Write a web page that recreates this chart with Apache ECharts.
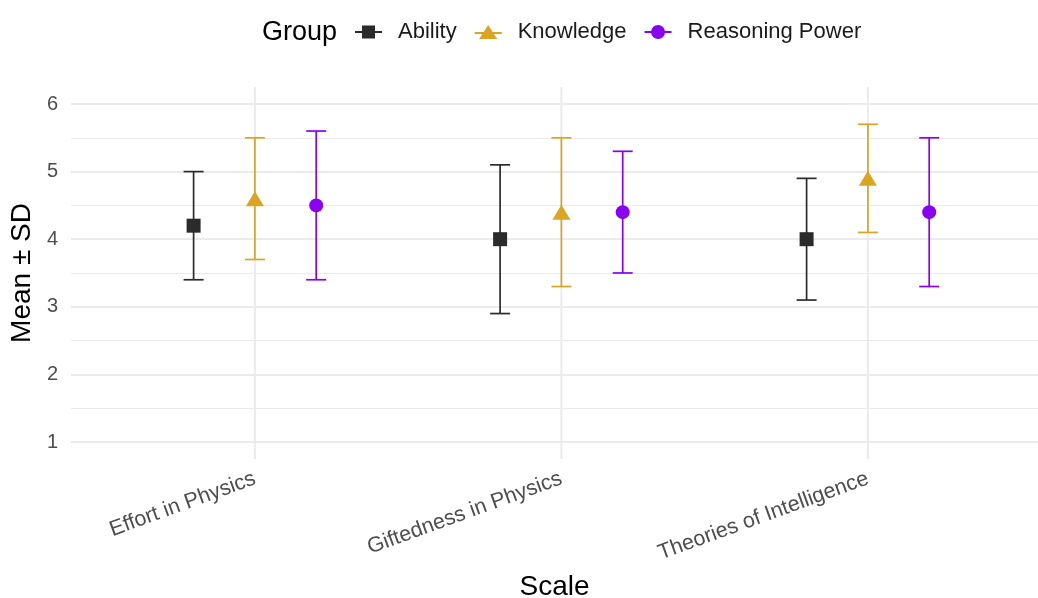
<!DOCTYPE html>
<html><head><meta charset="utf-8">
<script src="https://cdn.jsdelivr.net/npm/echarts@6/dist/echarts.min.js"></script>
<style>html,body{margin:0;padding:0;background:#fff}#c{width:1038px;height:598px}</style>
</head><body><div id="c"></div>
<script>
const categories = ['Effort in Physics', 'Giftedness in Physics', 'Theories of Intelligence'];
const groups = ['Ability', 'Knowledge', 'Reasoning Power'];
const abilityMean = [4.2, 4.0, 4.0];
const abilitySD = [0.8, 1.1, 0.9];
const knowledgeMean = [4.6, 4.4, 4.9];
const knowledgeSD = [0.9, 1.1, 0.8];
const reasoningMean = [4.5, 4.4, 4.4];
const reasoningSD = [1.1, 0.9, 1.1];
const yTicks = [1, 2, 3, 4, 5, 6];

const FONT = '"Liberation Sans", Arial, Helvetica, sans-serif';
const colors = ['#2b2b2b', '#DAA520', '#8A00F0'];
const symbols = ['rect', 'triangle', 'circle'];
const symbolSizes = [14, [18, 15], 14];
const offsets = [-0.2, 0, 0.2];
const means = [abilityMean, knowledgeMean, reasoningMean];
const sds = [abilitySD, knowledgeSD, reasoningSD];
const icons = [
  'path://M0,6 L27,6 L27,8 L0,8 Z M7,0.5 L20,0.5 L20,13.5 L7,13.5 Z',
  'path://M0,7 L27,7 L27,9 L0,9 Z M13.5,0 L22.5,14 L4.5,14 Z',
  'path://M0,6 L27,6 L27,8 L0,8 Z M13.5,0 A7,7 0 1 1 13.5,14 A7,7 0 1 1 13.5,0 Z'
];

function errRender(off, color) {
  return function (params, api) {
    const x = api.value(0) + off;
    const lo = api.coord([x, api.value(1)]);
    const hi = api.coord([x, api.value(2)]);
    const hw = 10;
    const style = { stroke: color, lineWidth: 1.7, fill: null };
    return {
      type: 'group', children: [
        { type: 'line', shape: { x1: lo[0], y1: lo[1], x2: hi[0], y2: hi[1] }, style: style },
        { type: 'line', shape: { x1: lo[0] - hw, y1: lo[1], x2: lo[0] + hw, y2: lo[1] }, style: style },
        { type: 'line', shape: { x1: hi[0] - hw, y1: hi[1], x2: hi[0] + hw, y2: hi[1] }, style: style }
      ]
    };
  };
}

const series = [{
  type: 'custom', name: 'vgrid', silent: true, clip: false, z: 1,
  data: categories.map((c, i) => [i + 1]),
  encode: { x: 0 },
  renderItem: function (params, api) {
    const a = api.coord([api.value(0), 0.75]);
    const b = api.coord([api.value(0), 6.25]);
    return { type: 'line', shape: { x1: a[0], y1: a[1], x2: b[0], y2: b[1] }, style: { stroke: '#ebebeb', lineWidth: 2 } };
  }
}];

groups.forEach((g, k) => {
  series.push({
    type: 'custom', name: g, silent: true, z: 3,
    itemStyle: { color: colors[k] },
    data: categories.map((c, i) => [i + 1, means[k][i] - sds[k][i], means[k][i] + sds[k][i]]),
    encode: { x: 0, y: [1, 2] },
    renderItem: errRender(offsets[k], colors[k])
  });
  series.push({
    type: 'scatter', name: g, z: 4, silent: true,
    symbol: symbols[k], symbolSize: symbolSizes[k],
    itemStyle: { color: colors[k], opacity: 1 },
    data: categories.map((c, i) => [i + 1 + offsets[k], means[k][i]])
  });
});

const chart = echarts.init(document.getElementById('c'), null, { renderer: 'canvas' });
chart.setOption({
  animation: false,
  backgroundColor: '#ffffff',
  textStyle: { fontFamily: FONT },
  title: { text: 'Group', left: 257, top: 14, textStyle: { fontSize: 27, fontWeight: 'normal', color: '#000', fontFamily: FONT } },
  legend: {
    left: 355, top: 21, padding: 0, itemWidth: 27, itemHeight: 14, itemGap: 18,
    textStyle: { fontSize: 22, color: '#1a1a1a', fontFamily: FONT, padding: [0, 0, 0, 11] },
    data: groups.map((g, k) => ({ name: g, icon: icons[k], itemStyle: { color: colors[k] } }))
  },
  grid: { left: 71, right: 0, top: 104, bottom: 156, containLabel: false, outerBoundsMode: 'none' },
  xAxis: {
    type: 'value', min: 0.4, max: 3.555,
    axisLine: { show: false }, axisTick: { show: false }, splitLine: { show: false },
    axisLabel: {
      customValues: categories.map((c, i) => i + 1),
      formatter: v => categories[Math.round(v) - 1] || '',
      rotate: 20, margin: 36, fontSize: 21.5, color: '#4d4d4d', fontFamily: FONT
    },
    name: 'Scale', nameLocation: 'middle', nameGap: 131,
    nameTextStyle: { fontSize: 28, color: '#000', fontFamily: FONT }
  },
  yAxis: {
    type: 'value', min: yTicks[0], max: yTicks[yTicks.length - 1], interval: 1,
    axisLine: { show: false }, axisTick: { show: false },
    axisLabel: { fontSize: 20, color: '#4d4d4d', margin: 13, fontFamily: FONT },
    splitLine: { show: true, lineStyle: { color: '#ebebeb', width: 2 } },
    minorTick: { show: false, splitNumber: 2 },
    minorSplitLine: { show: true, lineStyle: { color: '#ebebeb', width: 1.2 } },
    name: 'Mean ± SD', nameLocation: 'middle', nameGap: 29,
    nameTextStyle: { fontSize: 28, color: '#000', fontFamily: FONT }
  },
  series: series
});
</script></body></html>
